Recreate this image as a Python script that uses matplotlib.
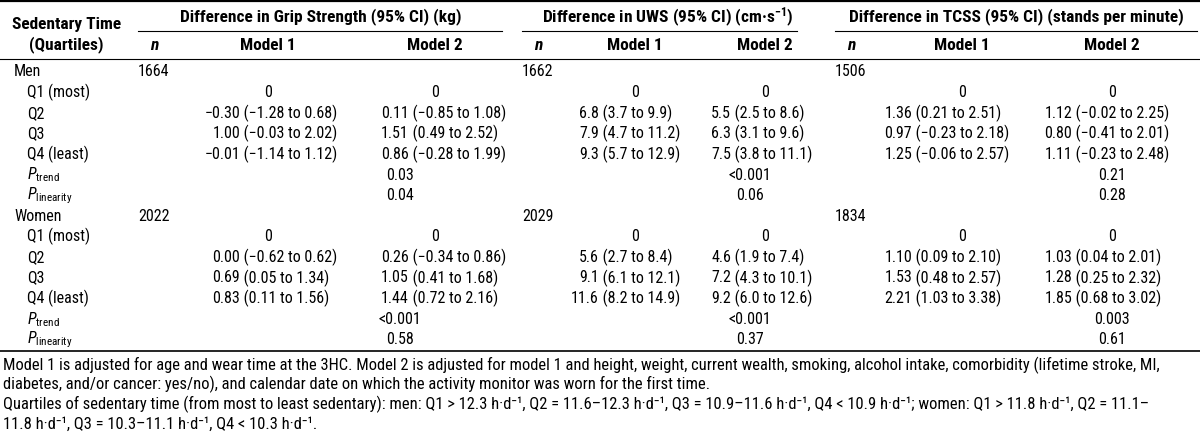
import matplotlib
matplotlib.use("Agg")
import matplotlib.pyplot as plt
import matplotlib.font_manager as fm

# fuente estrecha parecida a la del original
nombres = {f.name for f in fm.fontManager.ttflist}
fuente = next(f for f in ['Liberation Sans Narrow', 'Roboto Condensed', 'DejaVu Sans Condensed',
                          'Liberation Sans', 'DejaVu Sans'] if f in nombres)
plt.rcParams['font.family'] = [fuente, 'DejaVu Sans']
plt.rcParams['mathtext.fontset'] = 'custom'
plt.rcParams['mathtext.rm'] = fuente
plt.rcParams['mathtext.it'] = fuente + ':italic'
plt.rcParams['mathtext.bf'] = fuente + ':bold'

# datos de la tabla
sexes = ['Men', 'Women']
quartiles = ['Q1 (most)', 'Q2', 'Q3', 'Q4 (least)']
groups = ['Difference in Grip Strength (95% CI) (kg)',
          r'Difference in UWS (95% CI) (cm·s$^{\mathbf{-1}}$)',
          'Difference in TCSS (95% CI) (stands per minute)']
n_grip = [1664, 2022]
n_uws = [1662, 2029]
n_tcss = [1506, 1834]

grip_m1 = [['0', '−0.30 (−1.28 to 0.68)', '1.00 (−0.03 to 2.02)', '−0.01 (−1.14 to 1.12)'],
           ['0', '0.00 (−0.62 to 0.62)', '0.69 (0.05 to 1.34)', '0.83 (0.11 to 1.56)']]
grip_m2 = [['0', '0.11 (−0.85 to 1.08)', '1.51 (0.49 to 2.52)', '0.86 (−0.28 to 1.99)'],
           ['0', '0.26 (−0.34 to 0.86)', '1.05 (0.41 to 1.68)', '1.44 (0.72 to 2.16)']]
uws_m1 = [['0', '6.8 (3.7 to 9.9)', '7.9 (4.7 to 11.2)', '9.3 (5.7 to 12.9)'],
          ['0', '5.6 (2.7 to 8.4)', '9.1 (6.1 to 12.1)', '11.6 (8.2 to 14.9)']]
uws_m2 = [['0', '5.5 (2.5 to 8.6)', '6.3 (3.1 to 9.6)', '7.5 (3.8 to 11.1)'],
          ['0', '4.6 (1.9 to 7.4)', '7.2 (4.3 to 10.1)', '9.2 (6.0 to 12.6)']]
tcss_m1 = [['0', '1.36 (0.21 to 2.51)', '0.97 (−0.23 to 2.18)', '1.25 (−0.06 to 2.57)'],
           ['0', '1.10 (0.09 to 2.10)', '1.53 (0.48 to 2.57)', '2.21 (1.03 to 3.38)']]
tcss_m2 = [['0', '1.12 (−0.02 to 2.25)', '0.80 (−0.41 to 2.01)', '1.11 (−0.23 to 2.48)'],
           ['0', '1.03 (0.04 to 2.01)', '1.28 (0.25 to 2.32)', '1.85 (0.68 to 3.02)']]
p_trend = [['0.03', '<0.001', '0.21'], ['<0.001', '<0.001', '0.003']]
p_linearity = [['0.04', '0.06', '0.28'], ['0.58', '0.37', '0.61']]

notas = [
    'Model 1 is adjusted for age and wear time at the 3HC. Model 2 is adjusted for model 1 and height, weight, '
    'current wealth, smoking, alcohol intake, comorbidity (lifetime stroke, MI,',
    'diabetes, and/or cancer: yes/no), and calendar date on which the activity monitor was worn for the first time.',
    'Quartiles of sedentary time (from most to least sedentary): men: Q1 > 12.3 h·d⁻¹, '
    'Q2 = 11.6–12.3 h·d⁻¹, Q3 = 10.9–11.6 h·d⁻¹, Q4 < 10.9 h·d⁻¹; '
    'women: Q1 > 11.8 h·d⁻¹, Q2 = 11.1–',
    '11.8 h·d⁻¹, Q3 = 10.3–11.1 h·d⁻¹, Q4 < 10.3 h·d⁻¹.',
]
notas_y = [365, 384, 404, 424]

W, H = 1200, 438
fig = plt.figure(figsize=(W / 100, H / 100), dpi=100)
FS = 11.5    # cuerpo
FSH = 12.5   # encabezados
FSN = 11.9   # notas


def txt(x, y, s, ha='left', **kw):
    fig.text(x / W, 1 - y / H, s, ha=ha, va='center', fontsize=kw.pop('fs', FS), **kw)


def linea(x0, x1, y, lw=0.8):
    fig.add_artist(plt.Line2D([x0 / W, x1 / W], [1 - y / H, 1 - y / H], color='black', lw=lw))


# columnas: posicion de n, centro del encabezado, ancla decimal, centro de P
cols = [
    dict(n=n_grip, nx=138, line=(138, 502), gx=321,
         models=[(grip_m1, 268, 240), (grip_m2, 435, 409)], px=400),
    dict(n=n_uws, nx=522, line=(522, 797), gx=668,
         models=[(uws_m1, 635, 599), (uws_m2, 765, 731)], px=750),
    dict(n=n_tcss, nx=835, line=(835, 1197), gx=1016,
         models=[(tcss_m1, 962, 912), (tcss_m2, 1112, 1072)], px=1112),
]

# encabezados
linea(0, W, 1, lw=1.6)
txt(67, 25, 'Sedentary Time', ha='center', fontweight='bold', fs=FSH)
txt(66, 45, '(Quartiles)', ha='center', fontweight='bold', fs=FSH)
for c, g in zip(cols, groups):
    txt(c['gx'], 17, g, ha='center', fontweight='bold', fs=FSH)
    linea(c['line'][0], c['line'][1], 31)
    txt(c['nx'] + 16, 45, 'n', ha='center', fontweight='bold', fontstyle='italic', fs=FSH)
    for k, (_, cx, _) in enumerate(c['models']):
        txt(cx, 45, 'Model %d' % (k + 1), ha='center', fontweight='bold', fs=FSH)
linea(0, W, 59)

# cuerpo
y0, dy = 72, 20.6
for s, sexo in enumerate(sexes):
    base = y0 + s * 7 * dy
    txt(14, base, sexo)
    for q, lab in enumerate(quartiles):
        txt(27, base + (q + 1) * dy, lab)
    txt(27, base + 5 * dy, r'$P_{\mathrm{trend}}$')
    txt(27, base + 6 * dy, r'$P_{\mathrm{linearity}}$')
    for j, c in enumerate(cols):
        txt(c['nx'], base, str(c['n'][s]))
        for valores, cx, ancla in c['models']:
            for q, v in enumerate(valores[s]):
                yy = base + (q + 1) * dy
                if v == '0':
                    txt(cx, yy, v, ha='center')
                else:
                    lead, resto = v.split(' ', 1)
                    txt(ancla, yy, lead, ha='right')
                    txt(ancla, yy, ' ' + resto, ha='left')
        txt(c['px'], base + 5 * dy, p_trend[s][j], ha='center')
        txt(c['px'], base + 6 * dy, p_linearity[s][j], ha='center')

linea(0, W, 351, lw=1.2)

# notas al pie
for nota, yy in zip(notas, notas_y):
    txt(3, yy, nota, fs=FSN)

fig.savefig('out.png', dpi=100)
